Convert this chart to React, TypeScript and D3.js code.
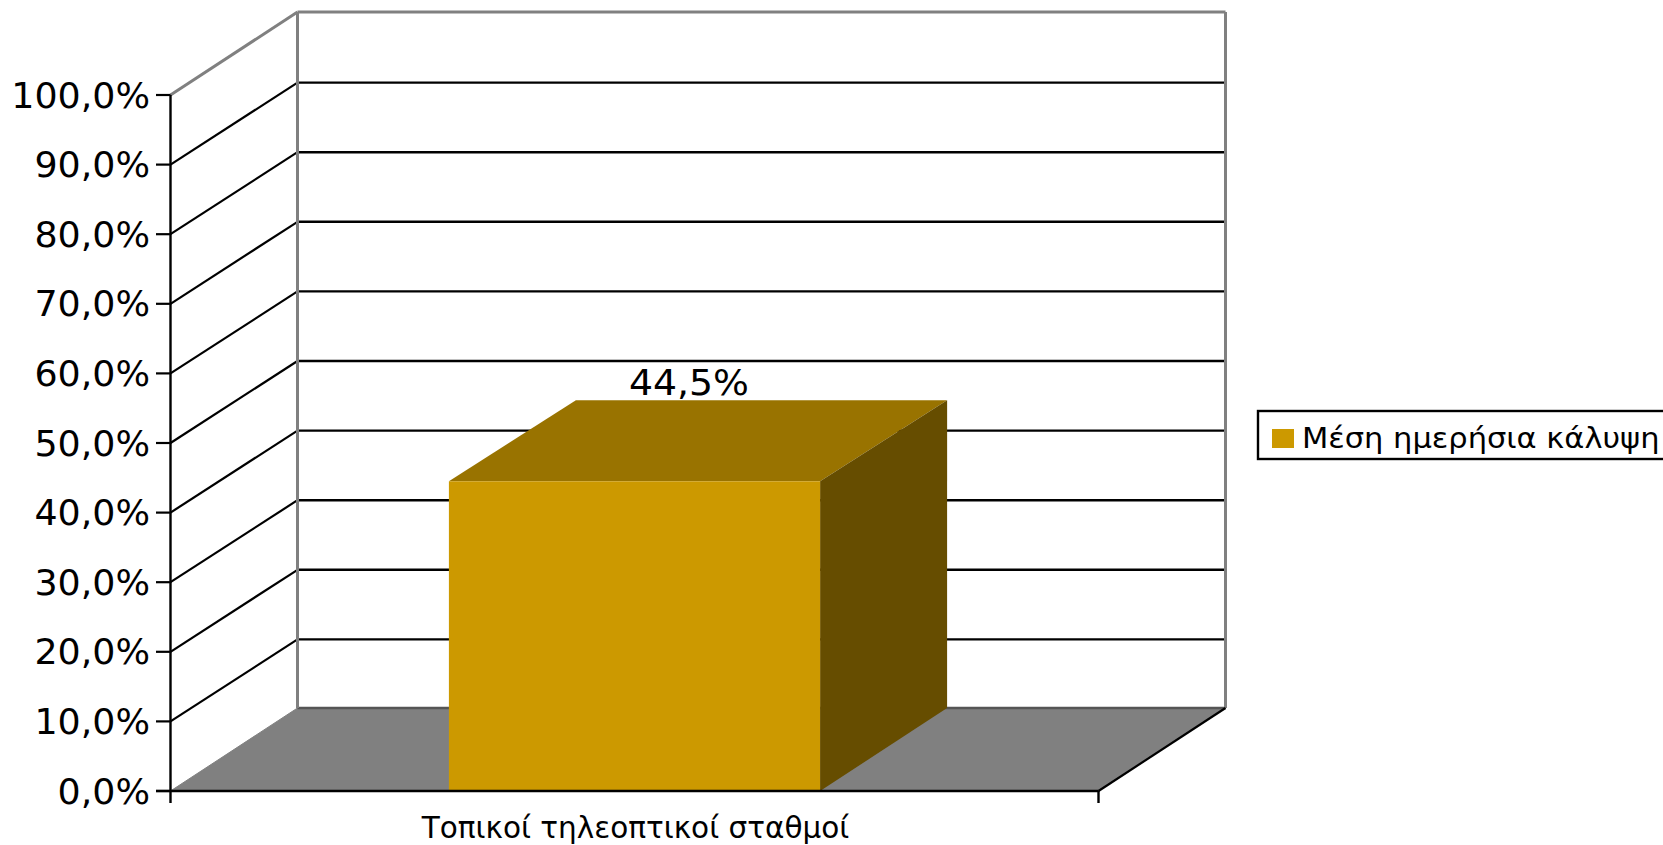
import React from "react";
import * as d3 from "d3";

const categories = ["Τοπικοί τηλεοπτικοί σταθμοί"];
const seriesName = "Μέση ημερήσια κάλυψη";
const seriesValues = [44.5];
const valueLabels = ["44,5%"];
const yTicks = [0, 10, 20, 30, 40, 50, 60, 70, 80, 90, 100];
const fmt = (v: number) => v.toFixed(1).replace(".", ",") + "%";

const FONT = "'DejaVu Sans', sans-serif";
const dx = 127;
const dy = -83;
const WIDEN = 1.04;

export default function App() {
  const y = d3.scaleLinear().domain([0, 100]).range([791, 95]);
  const band = d3.scaleBand().domain(categories).range([170.5, 1098.5]).paddingInner(0).paddingOuter(0.75);
  const poly = (pts: [number, number][]) => d3.line()(pts)! + "Z";

  const x0 = 170.5;
  const x1 = 1098.5;
  const y0 = y(0);
  const yTop = y(100);

  return (
    <svg width={1663} height={845} style={{ position: "absolute", left: 0, top: 0, background: "#fff" }} fontFamily={FONT}>
      {/* floor */}
      <path d={poly([[x0, y0], [x0 + dx, y0 + dy], [x1 + dx, y0 + dy], [x1, y0]])} fill="#808080" />
      {/* gridlines */}
      {yTicks.map((t) => {
        const edge = t === 100 || t === 0;
        const c = edge ? "#808080" : "#000";
        const yy = y(t);
        const snap = edge ? 0 : 1;
        return (
          <g key={t}>
            <line x1={x0} x2={x0 + dx} y1={yy} y2={yy + dy + snap} stroke={c} strokeWidth={t === 0 ? 1 : t === 100 ? 3 : 2.2} />
            <line x1={x0 + dx} x2={x1 + dx} y1={yy + dy + snap} y2={yy + dy + snap} stroke={t === 0 ? "#555" : c} strokeWidth={t === 100 ? 3 : 2.4} />
          </g>
        );
      })}
      {/* back wall edges */}
      <line x1={x0 + dx} x2={x0 + dx} y1={yTop + dy} y2={y0 + dy} stroke="#808080" strokeWidth={3} />
      <line x1={x1 + dx} x2={x1 + dx} y1={yTop + dy} y2={y0 + dy} stroke="#808080" strokeWidth={3} />
      {/* value label, behind the bar */}
      {seriesValues.map((v, i) => (
        <text key={i} transform={`translate(689,395) scale(1.08,1)`} textAnchor="middle" fontSize={35} fill="#000">{valueLabels[i]}</text>
      ))}
      {/* bar */}
      {seriesValues.map((v, i) => {
        const left = band(categories[i])!;
        const right = left + band.bandwidth();
        const top = y(v);
        const bdx = 127;
        const bdy = -81;
        return (
          <g key={i}>
            <path d={poly([[left, top], [left + bdx, top + bdy], [right + bdx, top + bdy], [right, top]])} fill="#997300" />
            <path d={poly([[right, top], [right + bdx, top + bdy], [right + bdx, y0 + dy], [right, y0]])} fill="#664D00" />
            <rect x={left} y={top} width={right - left} height={y0 - top} fill="#CC9900" />
          </g>
        );
      })}
      {/* right floor edge and axes */}
      <line x1={x1} x2={x1 + dx} y1={y0} y2={y0 + dy} stroke="#000" strokeWidth={2.2} />
      <line x1={x0} x2={x0} y1={yTop} y2={803} stroke="#000" strokeWidth={2.4} />
      <line x1={156} x2={x1} y1={y0} y2={y0} stroke="#000" strokeWidth={2.4} />
      <line x1={x1} x2={x1} y1={y0} y2={803} stroke="#000" strokeWidth={2.4} />
      {yTicks.map((t) => (
        <g key={t}>
          <line x1={156} x2={x0} y1={y(t)} y2={y(t)} stroke="#000" strokeWidth={2.2} />
          <text transform={`translate(150,${y(t) + 12.5}) scale(${WIDEN},1)`} textAnchor="end" fontSize={35} fill="#000">{fmt(t)}</text>
        </g>
      ))}
      {/* category label */}
      {categories.map((c) => (
        <text key={c} x={635.5} y={838} textAnchor="middle" fontSize={29.5} fill="#000">{c}</text>
      ))}
      {/* legend */}
      <rect x={1258} y={411} width={420} height={48} fill="#fff" stroke="#000" strokeWidth={2.4} />
      <rect x={1272} y={429} width={22} height={19} fill="#CC9900" />
      <text transform={`translate(1302,448) scale(1.07,1)`} fontSize={28.5} fill="#000">{seriesName}</text>
    </svg>
  );
}
